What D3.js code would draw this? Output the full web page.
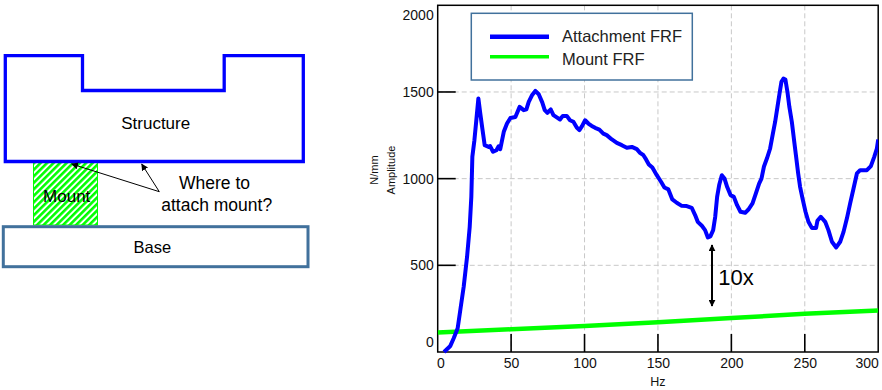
<!DOCTYPE html>
<html>
<head>
<meta charset="utf-8">
<script src="https://cdn.jsdelivr.net/npm/d3@7"></script>
<style>
  body { margin: 0; background: #fff; }
  svg { display: block; font-family: "Liberation Sans", Arial, sans-serif; }
  .grid line { stroke: #c8c8c8; stroke-dasharray: 5,3; }
  .axis text { font-size: 14px; fill: #111; }
</style>
</head>
<body>
<svg id="chart" width="882" height="390"></svg>
<script>
// Attachment FRF (Hz, N/mm)
const attachHz = [4.3, 8.6, 10.9, 13.6, 15.4, 17.7, 20, 21.8, 22.9, 23.6, 25, 26.3, 27.7, 29, 30.4, 32,
  34.7, 35.7, 37.7, 40, 41.5, 42.6, 45, 47.2, 49.5, 52.9, 55.8, 58.6, 60.4, 62, 64.2, 66.5, 68.8, 71.2,
  72.9, 74.7, 77, 78.8, 81.1, 83.3, 85.2, 87.9, 90.1, 92.4, 94.7, 96.5, 98.3, 100.4, 102.6, 104.9, 107.2,
  110.1, 112.8, 115.1, 118.6, 122, 125.4, 128.8, 132.2, 135.6, 137.8, 140.1, 141.9, 143.8, 146.2, 149.2,
  152.1, 154.4, 157.1, 159.8, 162.8, 166.2, 169.6, 173, 175.3, 177.1, 179.9, 182.1, 184, 185.7, 187.6,
  189, 190.3, 191.7, 193.5, 195.3, 197.1, 199.4, 201.7, 203.9, 206.2, 209.4, 211.6, 214.4, 216.7, 218.9,
  220.5, 222.2, 224.2, 226.4, 228.3, 229.8, 231.4, 232.8, 234.1, 235.5, 236.8, 238.2, 239.5, 241.2,
  242.7, 244.1, 245.5, 246.8, 248.7, 250.5, 252.5, 254.8, 257.7, 258.6, 260.9, 263.9, 266.1, 268.5,
  271.4, 274.1, 276.4, 278.7, 280.9, 283.2, 285.5, 287.7, 292.3, 295, 297.3, 299.1, 300];
const attachAmp = [0, 35, 79, 137, 242, 376, 549, 722, 895, 1126, 1222, 1337, 1462, 1376, 1289, 1193,
  1183, 1188, 1155, 1164, 1187, 1170, 1270, 1318, 1350, 1356, 1414, 1395, 1400, 1443, 1481, 1506, 1487, 1440,
  1395, 1380, 1399, 1366, 1353, 1341, 1362, 1362, 1337, 1328, 1295, 1280, 1303, 1337, 1318, 1304, 1293,
  1283, 1260, 1251, 1226, 1206, 1193, 1178, 1183, 1170, 1149, 1135, 1111, 1082, 1064, 1020,
  982, 949, 938, 880, 861, 843, 842, 832, 790, 751, 728, 703, 661, 667, 703,
  780, 895, 963, 1020, 1001, 953, 905, 895, 847, 809, 803, 822, 857, 915, 972,
  1000, 1070, 1116, 1174, 1261, 1327, 1414, 1491, 1558, 1577, 1572, 1500, 1414, 1327,
  1222, 1126, 1030, 953, 876, 809, 751, 716, 716, 757, 780, 751, 703, 636,
  603, 636, 693, 771, 857, 943, 1030, 1049, 1049, 1072, 1126, 1174, 1226];

// Mount FRF
const mountHz = [0, 50, 100, 150, 200, 250, 300];
const mountAmp = [113, 131, 150, 171, 196, 220, 240];

const xTicks = [0, 50, 100, 150, 200, 250, 300];
const yTicks = [0, 500, 1000, 1500, 2000];
const legendLabels = ['Attachment FRF', 'Mount FRF'];
const seriesColors = ['#0000ff', '#00ff00'];

const plot = {left: 437.7, right: 878.2, top: 5.3, bottom: 352, tick: 18};

const svg = d3.select('#chart');

// ---- left sketch ----
function drawSketch() {
  const defs = svg.append('defs');
  defs.append('pattern')
    .attr('id', 'hatch')
    .attr('patternUnits', 'userSpaceOnUse')
    .attr('width', 4.6)
    .attr('height', 4.6)
    .attr('patternTransform', 'rotate(45)')
    .append('rect')
    .attr('width', 2.6)
    .attr('height', 4.6)
    .attr('fill', '#00ff00');

  defs.append('marker')
    .attr('id', 'tip')
    .attr('viewBox', '0 0 10 10')
    .attr('refX', 9).attr('refY', 5)
    .attr('markerWidth', 7).attr('markerHeight', 7)
    .attr('markerUnits', 'userSpaceOnUse')
    .attr('orient', 'auto-start-reverse')
    .append('path').attr('d', 'M0,0L10,5L0,10Z').attr('fill', '#000');

  // mount
  svg.append('rect')
    .attr('x', 33.5).attr('y', 162).attr('width', 64).attr('height', 63)
    .attr('fill', 'url(#hatch)')
    .attr('stroke', '#00ff00').attr('stroke-width', 1);

  // structure
  const s = d3.path();
  s.moveTo(5.3, 55.7);
  s.lineTo(82.5, 55.7);
  s.lineTo(82.5, 90.5);
  s.lineTo(224.2, 90.5);
  s.lineTo(224.2, 55.7);
  s.lineTo(303.3, 55.7);
  s.lineTo(303.3, 161.5);
  s.lineTo(5.3, 161.5);
  s.closePath();
  svg.append('path').attr('d', s.toString())
    .attr('fill', 'none').attr('stroke', '#0000ff').attr('stroke-width', 3.3);

  // base
  svg.append('rect')
    .attr('x', 3.3).attr('y', 226.7).attr('width', 304.7).attr('height', 40)
    .attr('fill', '#fff').attr('stroke', '#41719c').attr('stroke-width', 3);

  const labels = [
    {t: 'Structure', x: 155.7, y: 129.3, size: 17},
    {t: 'Mount', x: 66.7, y: 202.3, size: 17},
    {t: 'Base', x: 152.3, y: 253.3, size: 16.5},
    {t: 'Where to', x: 214.5, y: 189, size: 17.5},
    {t: 'attach mount?', x: 216.7, y: 210.7, size: 17.5}
  ];
  svg.selectAll('.sketch-label')
    .data(labels)
    .join('text')
    .classed('sketch-label', true)
    .attr('x', (d) => d.x)
    .attr('y', (d) => d.y)
    .attr('text-anchor', 'middle')
    .attr('font-size', (d) => d.size)
    .attr('fill', '#000')
    .text((d) => d.t);

  // arrows to the structure
  [[71.7, 164], [141.7, 164]].forEach(([tx, ty]) => {
    svg.append('line')
      .attr('x1', 159.3).attr('y1', 191.7).attr('x2', tx).attr('y2', ty)
      .attr('stroke', '#000').attr('stroke-width', 1)
      .attr('marker-end', 'url(#tip)');
  });
}

// ---- FRF chart ----
function drawChart() {
  const x = d3.scaleLinear().domain([0, 300]).range([plot.left, plot.right]);
  const y = d3.scaleLinear().domain([0, 2000]).range([plot.bottom, plot.top]);

  const grid = svg.append('g').classed('grid', true);
  grid.selectAll('.gx')
    .data(xTicks.slice(1, -1))
    .join('line')
    .attr('x1', (d) => x(d)).attr('x2', (d) => x(d))
    .attr('y1', plot.top).attr('y2', plot.bottom);
  grid.selectAll('.gy')
    .data(yTicks.slice(1, -1))
    .join('line')
    .attr('y1', (d) => y(d)).attr('y2', (d) => y(d))
    .attr('x1', plot.left).attr('x2', plot.right);

  // labels from d3 axes, tick marks drawn separately below
  const xAxis = svg.append('g')
    .classed('axis', true)
    .attr('transform', `translate(0,${plot.bottom})`)
    .call(d3.axisBottom(x).tickValues(xTicks).tickFormat(d3.format('d'))
      .tickSize(0).tickPadding(6));
  xAxis.select('.domain').remove();
  xAxis.selectAll('.tick line').remove();
  xAxis.selectAll('.tick text')
    .attr('dx', (d) => (d === 0 ? 2.6 : d === 300 ? -11.5 : 0));

  const yAxis = svg.append('g')
    .classed('axis', true)
    .attr('transform', `translate(${plot.left},0)`)
    .call(d3.axisLeft(y).tickValues(yTicks).tickFormat(d3.format('d'))
      .tickSize(0).tickPadding(4));
  yAxis.select('.domain').remove();
  yAxis.selectAll('.tick line').remove();
  yAxis.selectAll('.tick text')
    .attr('dy', (d) => (d === 2000 ? '1.0em' : d === 0 ? '-0.4em' : '0.32em'));

  svg.selectAll('.xtick')
    .data(xTicks.slice(1, -1))
    .join('line')
    .classed('xtick', true)
    .attr('x1', (d) => x(d)).attr('x2', (d) => x(d))
    .attr('y1', plot.bottom).attr('y2', plot.bottom - plot.tick)
    .attr('stroke', '#000').attr('stroke-width', 1.6);
  svg.selectAll('.ytick')
    .data(yTicks.slice(1, -1))
    .join('line')
    .classed('ytick', true)
    .attr('y1', (d) => y(d)).attr('y2', (d) => y(d))
    .attr('x1', plot.left).attr('x2', plot.left + plot.tick)
    .attr('stroke', '#000').attr('stroke-width', 1.6);

  // frame
  svg.append('rect')
    .attr('x', plot.left).attr('y', plot.top)
    .attr('width', plot.right - plot.left).attr('height', plot.bottom - plot.top)
    .attr('fill', 'none').attr('stroke', '#000').attr('stroke-width', 1.5);

  svg.append('text')
    .attr('x', (plot.left + plot.right) / 2).attr('y', 386)
    .attr('text-anchor', 'middle').attr('font-size', 12.5).attr('fill', '#111')
    .text('Hz');

  svg.selectAll('.ylabel')
    .data([{t: 'N/mm', x: 378}, {t: 'Amplitude', x: 395}])
    .join('text')
    .classed('ylabel', true)
    .attr('transform', (d) => `translate(${d.x},170) rotate(-90)`)
    .attr('text-anchor', 'middle').attr('font-size', 11).attr('fill', '#111')
    .text((d) => d.t);

  const line = d3.line().x((d) => x(d[0])).y((d) => y(d[1]));
  svg.append('clipPath').attr('id', 'plotclip').append('rect')
    .attr('x', plot.left).attr('y', plot.top)
    .attr('width', plot.right - plot.left).attr('height', plot.bottom - plot.top + 2);

  svg.append('path')
    .datum(mountHz.map((h, i) => [h, mountAmp[i]]))
    .attr('d', line)
    .attr('clip-path', 'url(#plotclip)')
    .attr('fill', 'none').attr('stroke', seriesColors[1]).attr('stroke-width', 4.5);

  svg.append('path')
    .datum(attachHz.map((h, i) => [h, attachAmp[i]]))
    .attr('d', line)
    .attr('clip-path', 'url(#plotclip)')
    .attr('fill', 'none').attr('stroke', seriesColors[0]).attr('stroke-width', 4)
    .attr('stroke-linejoin', 'round');

  // legend
  const lg = svg.append('g');
  lg.append('rect')
    .attr('x', 471.3).attr('y', 13.3).attr('width', 221).attr('height', 66.7)
    .attr('fill', '#fff').attr('stroke', '#41719c').attr('stroke-width', 1.5);
  const items = lg.selectAll('.item')
    .data(legendLabels)
    .join('g')
    .attr('transform', (d, i) => `translate(0,${36.7 + i * 20})`);
  items.append('line')
    .attr('x1', 490).attr('x2', 549)
    .attr('stroke', (d, i) => seriesColors[i])
    .attr('stroke-width', (d, i) => (i === 0 ? 4.5 : 3.5));
  items.append('text')
    .attr('x', 562).attr('y', (d, i) => (i === 0 ? 5.5 : 8.3))
    .attr('font-size', 16.5).attr('fill', '#222')
    .text((d) => d);

  // 10x gap annotation
  const ax = 712;
  svg.append('line')
    .attr('x1', ax).attr('x2', ax).attr('y1', 245).attr('y2', 306)
    .attr('stroke', '#000').attr('stroke-width', 2)
    .attr('marker-start', 'url(#tip)').attr('marker-end', 'url(#tip)');
  svg.append('text')
    .attr('x', 718.3).attr('y', 285)
    .attr('font-size', 22).attr('fill', '#000')
    .text('10x');
}

drawSketch();
drawChart();
</script>
</body>
</html>
